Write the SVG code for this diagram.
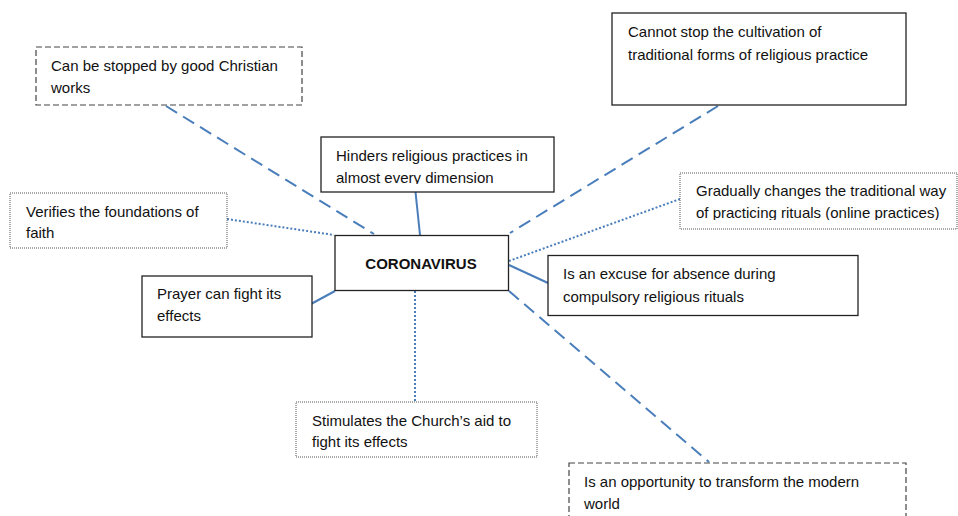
<svg xmlns="http://www.w3.org/2000/svg" width="958" height="516" viewBox="0 0 958 516">
<style>
text{font-family:"Liberation Sans",Arial,sans-serif;font-size:15px;fill:#111}
.b{fill:#fff;stroke:#222;stroke-width:1.3}
.dash{fill:#fff;stroke:#444;stroke-width:1.2;stroke-dasharray:6 3}
.dot{fill:#fff;stroke:#555;stroke-width:1;stroke-dasharray:1 1}
.c{fill:none;stroke:#4a7ebb;stroke-width:2}
.cd{stroke-dasharray:13 7}
.co{stroke-dasharray:2 2}
</style>
<defs>
<clipPath id="clipH"><rect x="320" y="136" width="235" height="48"/></clipPath>
<clipPath id="clipG"><rect x="680" y="172" width="280" height="48"/></clipPath>
</defs>
<rect width="958" height="516" fill="#fff"/>
<g id="connectors">
<line class="c cd" x1="166" y1="106" x2="374" y2="234"/>
<line class="c co" x1="227" y1="219" x2="334" y2="235"/>
<line class="c" x1="415.5" y1="192" x2="420" y2="235"/>
<line class="c cd" x1="718" y1="106" x2="510" y2="233"/>
<line class="c co" x1="680" y1="199" x2="509" y2="261"/>
<line class="c" x1="509" y1="265" x2="548" y2="283"/>
<line class="c cd" x1="509" y1="291" x2="709" y2="462"/>
<line class="c co" x1="415" y1="291" x2="415" y2="401"/>
<line class="c" x1="335" y1="291" x2="311" y2="304"/>
</g>
<g id="n-stopped">
<rect class="dash" x="36" y="47" width="266" height="58"/>
<text x="51" y="71">Can be stopped by good Christian</text>
<text x="51" y="93">works</text>
</g>
<g id="n-verifies">
<rect class="dot" x="10" y="193" width="217" height="55"/>
<text x="26" y="217">Verifies the foundations of</text>
<text x="26" y="238">faith</text>
</g>
<g id="n-hinders">
<rect class="b" x="321" y="137" width="233" height="55"/>
<g clip-path="url(#clipH)">
<text x="336" y="161">Hinders religious practices in</text>
<text x="336" y="183">almost every dimension</text>
</g>
</g>
<g id="n-corona">
<rect class="b" x="335" y="235.5" width="173.5" height="55"/>
<text x="421" y="269" text-anchor="middle" font-weight="bold">CORONAVIRUS</text>
</g>
<g id="n-cannot">
<rect class="b" x="612" y="13" width="294" height="92" stroke-width="1.6"/>
<text x="628" y="37">Cannot stop the cultivation of</text>
<text x="628" y="60">traditional forms of religious practice</text>
</g>
<g id="n-gradually">
<rect class="dot" x="680" y="173" width="277" height="56"/>
<g clip-path="url(#clipG)">
<text x="696" y="196">Gradually changes the traditional way</text>
<text x="696" y="218">of practicing rituals (online practices)</text>
</g>
</g>
<g id="n-prayer">
<rect class="b" x="142" y="276" width="170" height="61"/>
<text x="157" y="299">Prayer can fight its</text>
<text x="157" y="321">effects</text>
</g>
<g id="n-excuse">
<rect class="b" x="548" y="255.5" width="310" height="60"/>
<text x="563" y="279">Is an excuse for absence during</text>
<text x="563" y="302">compulsory religious rituals</text>
</g>
<g id="n-stimulates">
<rect class="dot" x="296" y="402" width="241" height="55"/>
<text x="312" y="426">Stimulates the Church’s aid to</text>
<text x="312" y="447">fight its effects</text>
</g>
<g id="n-opportunity">
<rect class="dash" x="569" y="463" width="337" height="70"/>
<text x="584" y="487">Is an opportunity to transform the modern</text>
<text x="584" y="509">world</text>
</g>
</svg>
